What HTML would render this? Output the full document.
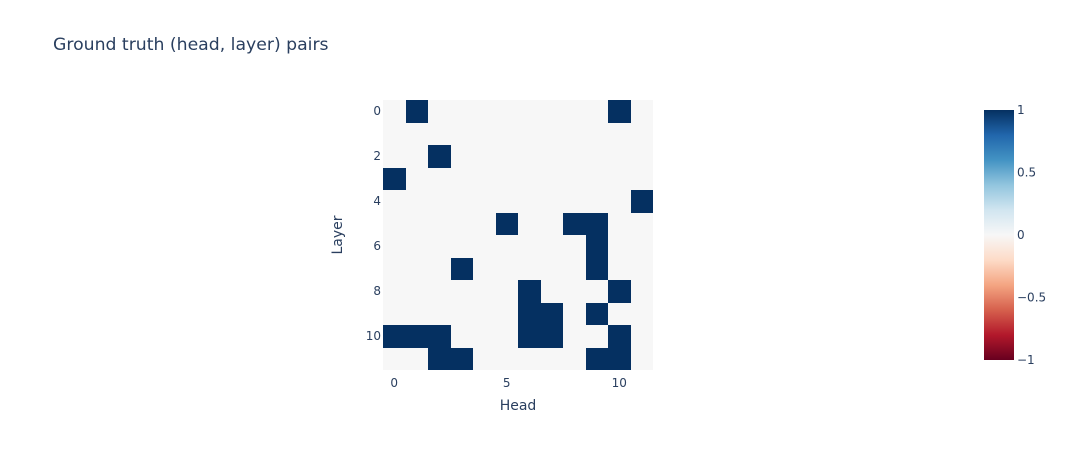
<!DOCTYPE html>
<html>
<head>
<meta charset="utf-8">
<title>Ground truth (head, layer) pairs</title>
<style>
html,body{margin:0;padding:0;background:#fff;width:1065px;height:450px;overflow:hidden}
svg{display:block;font-family:"DejaVu Sans","Liberation Sans",sans-serif;fill:#2a3f5f}
</style>
</head>
<body>
<svg id="chart" width="1065" height="450" viewBox="0 0 1065 450">
  <rect width="1065" height="450" fill="#fff"></rect>
  <text x="53" y="50" font-size="17.25">Ground truth (head, layer) pairs</text>
  <g id="cells"></g>
  <g id="xticks"></g>
  <g id="yticks"></g>
  <text x="518" y="410" font-size="14" text-anchor="middle">Head</text>
  <text transform="translate(342 235) rotate(-90)" font-size="14" text-anchor="middle">Layer</text>
  <defs>
    <linearGradient id="cbgrad" x1="0" y1="1" x2="0" y2="0"></linearGradient>
  </defs>
  <rect id="cbar" x="984" y="110" width="30" height="250" fill="url(#cbgrad)"></rect>
  <g id="cbticks"></g>
</svg>
<script>
const heads = [0,1,2,3,4,5,6,7,8,9,10,11];
const layers = [0,1,2,3,4,5,6,7,8,9,10,11];
const zValues = [
  [0,1,0,0,0,0,0,0,0,0,1,0],
  [0,0,0,0,0,0,0,0,0,0,0,0],
  [0,0,1,0,0,0,0,0,0,0,0,0],
  [1,0,0,0,0,0,0,0,0,0,0,0],
  [0,0,0,0,0,0,0,0,0,0,0,1],
  [0,0,0,0,0,1,0,0,1,1,0,0],
  [0,0,0,0,0,0,0,0,0,1,0,0],
  [0,0,0,1,0,0,0,0,0,1,0,0],
  [0,0,0,0,0,0,1,0,0,0,1,0],
  [0,0,0,0,0,0,1,1,0,1,0,0],
  [1,1,1,0,0,0,1,1,0,0,1,0],
  [0,0,1,1,0,0,0,0,0,1,1,0]
];
const xTickValues = [0,5,10];
const yTickValues = [0,2,4,6,8,10];
const colorbarTicks = [1,0.5,0,-0.5,-1];
const colorbarTickLabels = ['1','0.5','0','\u22120.5','\u22121'];
const scaleStops = [
  'rgb(103,0,31)','rgb(178,24,43)','rgb(214,96,77)','rgb(244,165,130)','rgb(253,219,199)',
  'rgb(247,247,247)','rgb(209,229,240)','rgb(146,197,222)','rgb(67,147,195)','rgb(33,102,172)','rgb(5,48,97)'
];

const NS = 'http://www.w3.org/2000/svg';
const plot = {left:383, top:100, width:270, height:270};
const cb = {top:110, height:250, min:-1, max:1};
const xEdge = v => plot.left + (v + 0.5) * plot.width / heads.length;
const yEdge = v => plot.top + (v + 0.5) * plot.height / layers.length;
const cbY = v => cb.top + (cb.max - v) / (cb.max - cb.min) * cb.height;
function colorFor(z){
  const t = (z - cb.min) / (cb.max - cb.min) * (scaleStops.length - 1);
  return scaleStops[Math.round(t)];
}
function make(tag, attrs, parent, text){
  const el = document.createElementNS(NS, tag);
  for (const k in attrs) el.setAttribute(k, attrs[k]);
  if (text !== undefined) el.textContent = text;
  parent.appendChild(el);
  return el;
}
const cells = document.getElementById('cells');
layers.forEach((layer, r) => {
  heads.forEach((head, c) => {
    const x0 = Math.round(xEdge(head - 0.5)), x1 = Math.round(xEdge(head + 0.5));
    const y0 = Math.round(yEdge(layer - 0.5)), y1 = Math.round(yEdge(layer + 0.5));
    const rect = make('rect', {x:x0, y:y0, width:x1 - x0, height:y1 - y0, fill:colorFor(zValues[r][c]), 'shape-rendering':'crispEdges'}, cells);
    
    
  });
});
const xt = document.getElementById('xticks');
xTickValues.forEach(v => {
  const t = make('text', {x:xEdge(v), y:387, 'font-size':12, 'text-anchor':'middle'}, xt, String(v));
  
  
});
const yt = document.getElementById('yticks');
yTickValues.forEach(v => {
  const t = make('text', {x:381, y:yEdge(v) + 3.5, 'font-size':12, 'text-anchor':'end'}, yt, String(v));
  
  
});
const grad = document.getElementById('cbgrad');
scaleStops.forEach((col, i) => {
  make('stop', {offset:(i / (scaleStops.length - 1)), 'stop-color':col}, grad);
});
const cbt = document.getElementById('cbticks');
colorbarTicks.forEach((v, i) => {
  const t = make('text', {x:1017, y:cbY(v) + 4, 'font-size':12}, cbt, colorbarTickLabels[i]);
  
  
});
</script>
</body>
</html>
